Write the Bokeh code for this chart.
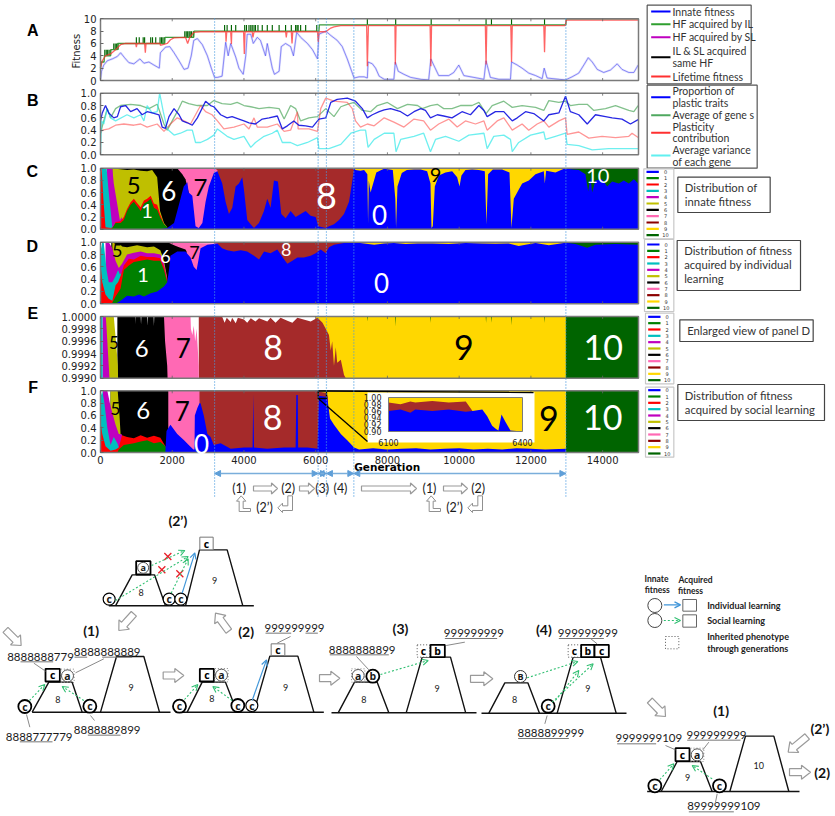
from bokeh.plotting import figure
from bokeh.embed import file_html
from bokeh.resources import INLINE
from bokeh.core.properties import value
from bokeh.models import (Range1d, LinearAxis, FixedTicker, NumeralTickFormatter,
                          Arrow, OpenHead, NormalHead)

# ---------------- DATA ----------------
stage_gens = [3180, 6068, 6300, 7063, 12975]
gen_ticks = [0, 2000, 4000, 6000, 8000, 10000, 12000, 14000]

# Panel A
innate_x = [0,30,90,190,330,470,560,670,790,930,1100,1210,1350,1490,1640,1670,1810,1930,2050,2190,2330,2440,2530,2600,2700,2840,2980,3090,3180,3260,3390,3490,3560,3630,3770,3860,3980,4050,4090,4190,4260,4370,4460,4600,4650,4790,4850,4980,5040,5160,5300,5380,5470,5580,5770,5910,6050,6090,6280,6420,6600,6740,6880,7070,7210,7350,7440,7460,7580,7670,7770,7910,8180,8220,8300,8460,8650,8930,9150,9210,9290,9430,9710,9850,9990,10130,10410,10690,10750,10870,11105,11430,11460,11620,11755,11940,12130,12315,12370,12450,12780,12965,13150,13335,13475,13600,13710,13850,14030,14220,14405,14540,14730,14870,14990]
innate_y = [0.2,1.5,2.5,3.2,3.5,3.9,4.5,3.7,2.9,2.7,3.5,2.8,3,2.5,2.0,4.5,5.4,5.5,4.5,3.2,1.8,2.0,4,6.5,6.8,5.8,4,2,.5,.5,.7,6.2,4,6,3.8,2,1,4,7.5,7.5,6,7,6.5,4,6,2,1,1.5,5.5,6,5.5,4,7.8,7,6,5,3.5,7.5,8,7.3,6.5,5.5,3.5,.4,.6,.6,.4,3,2.7,2,.7,.2,.2,3,1.5,1,.5,.2,.1,3.5,2.5,.8,.8,1.3,2.5,.8,.5,.2,3.2,.5,.2,.2,3,2.5,2,1.2,.8,.3,2,.4,.2,.1,.6,1.2,2.5,3.7,3,1.8,1.3,1.7,2.7,1.8,1.3,1.3,2.5]
life_x = [0,50,140,280,420,560,700,980,1000,1020,1230,1250,1270,1660,1670,1860,1950,2050,2370,2430,2490,2600,2790,3490,3500,3520,3630,3650,3660,3990,4010,4030,4230,4250,4280,5160,5180,5200,5320,5340,5360,6050,6070,6090,6280,6420,6510,6700,7420,7440,7470,8210,8220,8240,9190,9210,9230,10730,10750,10770,11440,11460,11480,12360,12380,12400,12955,12985,15000]
life_y = [2,3.2,4,4.3,5,5.8,6,6,5.4,6,6,4.5,6,6,5.7,6,6.6,6.9,7,6,7,7.8,7.9,7.9,6.3,7.9,7.9,5.9,7.9,7.9,4.3,7.9,7.9,7,7.9,7.9,7,7.9,7.9,6,7.9,7.9,6.3,7.9,7.9,8.5,8.7,8.9,8.9,2.3,8.9,8.9,2.6,8.9,8.9,2.3,8.9,8.9,2.6,8.9,8.9,3,8.9,8.9,4.6,8.9,8.9,9.8,9.8]
il_x = [0,20,100,110,280,290,470,480,1790,1800,2600,2610,6090,6100,12975,12985,15000]
il_y = [2,3,3,4,4,5,5,6,6,7,7,8,8,9,9,10,10]
hf_levels = [4, 5, 6, 7, 8, 9]
hf_gens = [
    [120,160,200,240,280],
    [370,410,450,490],
    [1000,1080,1190,1230,1400,1450,1540,1660,1700,1740,1780],
    [2350,2390,2430,2470,2500,2540,2590],
    [3460,3530,3650,3770,4020,4070,4140,4190,4230,4280,4320,4390,4510,4650,4790,4980,5160,5320,5440,5480,5510,5580,5720,6030],
    [7440,8230,9220,10750,10900,11460,12380],
]

# Panel B
plastic_x = [0,50,140,230,370,470,560,700,840,1020,1160,1300,1440,1630,1720,1810,1910,2050,2190,2280,2420,2560,2700,2930,3070,3160,3350,3530,3670,3860,4000,4140,4320,4510,4700,4930,5070,5210,5390,5530,5720,5910,6090,6280,6420,6600,6880,7110,7300,7440,7580,7770,7910,8090,8370,8560,8740,8930,9060,9200,9390,9570,9800,10080,10315,10550,10690,10780,11010,11245,11480,11620,11850,12080,12360,12500,12780,12965,13100,13335,13570,13800,14080,14265,14540,14775,14990]
plastic_y = [.55,.68,.8,.68,.6,.62,.78,.8,.7,.75,.65,.7,.68,.65,.45,.43,.62,.75,.65,.55,.52,.48,.6,.87,.8,.78,.65,.6,.62,.58,.55,.52,.5,.58,.6,.63,.42,.47,.55,.48,.47,.45,.58,.6,.85,.9,.92,.87,.75,.6,.65,.7,.73,.75,.7,.63,.7,.75,.72,.6,.65,.63,.6,.7,.65,.8,.72,.62,.7,.7,.55,.6,.7,.67,.55,.65,.68,.95,.7,.65,.5,.65,.62,.6,.58,.5,.57]
avg_x = [0,90,190,280,420,560,840,1120,1350,1580,1770,1860,2000,2140,2280,2460,2700,2980,3160,3390,3630,3810,4000,4190,4420,4700,4980,5120,5300,5440,5580,5810,6050,6280,6510,6700,6880,7070,7300,7530,7720,8000,8280,8560,8840,8970,9200,9390,9570,9800,10035,10360,10550,10750,10920,11245,11480,11755,12130,12360,12500,12780,12965,13100,13335,13570,13755,14080,14360,14730,14870,14990]
avg_y = [.35,.55,.75,.6,.75,.8,.82,.8,.75,.82,.5,.4,.55,.7,.87,.83,.8,.8,.88,.83,.82,.85,.8,.78,.75,.77,.75,.58,.8,.75,.55,.6,.62,.75,.62,.78,.82,.85,.72,.7,.8,.85,.75,.82,.8,.75,.8,.82,.75,.75,.8,.8,.85,.67,.8,.87,.77,.8,.77,.72,.88,.85,.87,.8,.82,.82,.72,.75,.8,.72,.7,.8]
contrib_x = [0,50,230,420,650,930,1120,1300,1580,1770,1950,2140,2330,2510,2790,2930,3110,3260,3440,3720,4000,4140,4280,4370,4650,4930,5120,5300,5490,5510,5810,6050,6140,6280,6510,6880,7020,7110,7250,7440,7630,7910,8180,8460,8740,9010,9200,9430,9710,9945,10175,10455,10690,10780,11060,11245,11480,11755,11940,12175,12360,12500,12780,12965,13010,13335,13615,13985,14360,14730,14820,14990]
contrib_y = [.35,.4,.42,.48,.5,.48,.5,.45,.5,.38,.5,.6,.55,.5,.8,.7,.65,.55,.42,.45,.5,.42,.6,.45,.45,.5,.38,.4,.7,.42,.42,.38,.75,.92,.87,.85,.75,.55,.45,.5,.47,.6,.53,.45,.58,.55,.4,.5,.58,.45,.55,.5,.55,.4,.55,.6,.4,.5,.4,.5,.55,.45,.55,.6,.33,.37,.27,.3,.28,.3,.35,.28]
var_x = [0,30,90,190,280,420,740,930,1120,1210,1300,1440,1580,1650,1750,1860,2050,2230,2420,2560,2650,2790,2980,3160,3260,3530,3720,4000,4190,4320,4560,4790,4930,5070,5300,5490,5770,6050,6090,6370,6700,6980,7250,7390,7460,7630,7910,8180,8240,8370,8740,9010,9200,9340,9620,9990,10270,10690,10780,10965,11245,11430,11480,11660,11990,12360,12405,12685,12965,13010,13335,13710,14170,14730,14990]
var_y = [.02,.55,.5,.75,.6,.55,.65,.6,.65,.55,.8,.68,.7,1.0,.7,.42,.32,.35,.4,.4,.2,.2,.25,.32,.42,.3,.25,.3,.12,.2,.3,.35,.4,.2,.2,.15,.2,.28,.1,.1,.17,.35,.4,.4,.12,.25,.35,.35,.05,.25,.3,.35,.05,.25,.3,.22,.32,.35,.1,.3,.32,.25,.05,.2,.32,.37,.25,.3,.35,.17,.15,.08,.1,.1,.1]

# Panel C: upper edge of each class
C10 = ([12975,15000],[1,1])
C9 = ([7060,12975],[1,1])
C8 = ([3170,7070],[1,1])
C7 = ([2140,3170,3260],[1,1,.97])
C6 = ([330,1540,2140,2280,2370,2460],[1,1,1,.9,.82,.6])
C5 = ([330,420,740,930,1120,1300,1440,1580,1660,1770,1860],[1,.99,.97,.98,.96,.95,.97,.85,.3,.1,.03])
C4 = ([170,330,370,470,540,600],[1,1,.75,.4,.15,.2])
C3 = ([30,170,230,330],[1,1,.6,.03])
C2 = ([0,30,80,140,280,350,420,560,650,740,840,930,1020,1120,1210,1300,1400,1490,1580,1660,1770,1860],[1,1,.5,.03,.02,.03,.12,.13,.2,.33,.44,.5,.43,.36,.47,.5,.55,.42,.4,.25,.08,.02])
C1 = ([280,330,420,560,650,740,840,930,1020,1120,1210,1300,1400,1490,1580,1660,1770,1860],[0,.02,.1,.1,.15,.3,.4,.45,.38,.3,.42,.45,.5,.35,.32,.2,.08,.03])
C0 = ([1660,1860,2050,2140,2230,2320,2420,2460,2560,2650,2740,2840,2930,3020,3160,3260,3395,3488,3581,3674,3767,3860,3953,3999,4092,4185,4278,4418,4557,4650,4743,4836,4948,5041,5162,5301,5441,5580,5720,5859,5999,6073,6278,6371,6510,6650,6789,6929,7022,7068,7110,7250,7350,7440,7460,7480,7530,7690,7830,7910,8150,8220,8240,8280,8400,8540,8740,8930,9107,9200,9228,9265,9321,9433,9618,9804,9944,10009,10064,10176,10362,10548,10715,10761,10808,10938,11198,11403,11458,11523,11663,11756,11942,12127,12360,12388,12425,12685,12871,12964,13150,13335,13521,13596,13661,13707,13800,13986,14126,14265,14451,14590,14730,14870,14990],
      [0,.02,.1,.3,.5,.7,.77,.6,.55,.05,.02,.1,.45,.7,.92,.95,.75,.45,.25,.35,.7,.75,.85,.65,.15,.08,.02,.1,.3,.5,.35,.8,.78,.25,.18,.3,.2,.25,.3,.22,.2,.05,.02,.05,.08,.15,.25,.45,.8,1,.97,.96,.97,.9,.1,.8,.6,.93,.97,.99,.97,.5,.02,.7,.92,.97,.98,.98,.95,.75,.02,.05,.7,.88,.93,.95,.85,.7,.88,.97,.98,.97,.95,.08,.9,.98,.98,.93,.02,.5,.65,.75,.8,.9,.95,.75,.96,.93,.98,1,.98,.97,.9,.62,.85,.6,.8,.82,.7,.78,.75,.8,.75,.82,.75])

# Panel D
D10 = ([12975,15000],[1,1])
D9 = ([7060,12975],[1,1])
D8 = ([3160,7070],[1,1])
D7 = ([1860,2050,3260],[1,.99,.98])
D6 = ([300,1860,1950,2050,2190,2370,2400],[1,1,.98,.95,.92,.88,.85])
D5 = ([330,420,560,600,740,1020,1300,1490,1670,1770,1860],[1,.97,.96,.93,.92,.95,.92,.93,.87,.7,.42])
D4 = ([140,230,330,420,510,600,740,930,1120,1300,1490,1670,1770,1860],[1,1,.9,.7,.58,.65,.8,.83,.85,.82,.82,.8,.65,.4])
D3 = ([0,50,90,170,230,330,420,490,540,600],[.85,1,1,.55,.35,.35,.45,.55,.48,.5])
D2 = ([0,50,140,230,330,420,490,560,650,790,930,1120,1300,1490,1670,1770,1860],[.65,.35,.15,.08,.05,.3,.35,.45,.62,.73,.72,.78,.76,.76,.74,.6,.38])
D1 = ([330,420,560,650,790,930,1120,1300,1490,1670,1770,1860,1910],[.02,.12,.25,.55,.62,.68,.7,.72,.7,.7,.55,.35,.3])
D0 = ([420,560,740,930,1070,1210,1400,1580,1770,1860,1910,1950,2140,2370,2510,2600,2680,2790,2980,3160,3260,3390,3530,3720,3910,4090,4280,4420,4560,4740,4930,5120,5210,5350,5490,5670,5860,6000,6140,6280,6370,6510,6790,7070,7350,7630,7910,8180,8510,8840,9250,9710,10180,10640,11010,11380,11660,11850,12130,12500,12965,13240,13570,13800,14360,14990],
      [0,.05,.13,.12,.15,.12,.17,.2,.28,.35,.55,.78,.85,.85,.75,.6,.55,.9,.96,.97,.98,.9,.87,.85,.87,.85,.78,.72,.85,.82,.88,.72,.65,.7,.75,.75,.78,.82,.88,.82,.92,.96,.985,1,.98,.96,.98,.985,.97,.98,.98,.97,.985,.98,.975,.98,.94,.96,.985,.95,.99,.97,.91,.96,.97,.96])

# Panel E
E10 = ([7000,15000],[1,1])
E9 = ([6000,7430,7440,7450,8215,8225,8235,9190,9200,9210,10740,10750,10760,10890,10900,10910,11450,11460,11470,12370,12380,12390,12975],[1,1,.99992,1,1,.99984,1,1,.9999,1,1,.9999,1,1,.9999,1,1,.99986,1,1,.9999,1,1])
E8 = ([2740,3390,3460,3520,3630,3670,3770,3830,4000,4090,4190,4320,4420,4650,4740,4880,5020,5210,5350,5490,5860,6050,6190,6280,6370,6420,6460,6510,6560,6600,6700,6790,6840],
      [1,1,.9999,.99998,.99991,.99998,.99989,.99998,.99995,.9999,.99997,.99992,.99997,.99992,.99998,.9999,.99998,.99993,.9999,.99998,.99992,.99998,.9999,.9998,.9997,.99945,.9996,.9992,.9995,.99925,.9993,.99905,.999])
E7 = ([1740,2510,2520,2560,2600,2640,2680,2740],[1,1,.9998,.9997,.99985,.9996,.9998,.9992])
E6 = ([470,980,985,990,1120,1130,1140,1300,1310,1320,1480,1490,1500,1770,1800,1860,1870],[1,1,.99988,1,1,.99987,1,1,.99985,1,1,.99985,1,1,.9996,.9992,.999])
E5 = ([150,370,430,484,490],[1,1,.9996,.9992,.999])
E4 = ([56,150,200,250],[1,1,.9995,.999])
E3 = ([0,56,60],[1,1,.999])

# Panel F
F10 = ([12975,15000],[1,1])
F9 = ([6050,12975],[1,1])
F8 = ([2740,6060,6150,6280,6330,6340],[1,1,.98,.97,.92,.88])
F7 = ([1860,2760],[1,1])
F6 = ([280,1890],[1,1])
F5 = ([280,480,530,560,600],[1,1,.6,.3,.28])
F4 = ([65,190,280,420,510,600],[1,1,.75,.45,.3,.29])
F3 = ([0,50,110,190,280,370,470,510],[.9,1,.8,.4,.12,.25,.15,.08])
F2 = ([0,50,140,280,420,510,600,740,930,1120,1300,1490,1670,1810,1860],[.5,.3,.1,.03,.05,.08,.28,.25,.23,.28,.24,.27,.24,.1,.03])
F1 = ([470,510,650,930,1120,1300,1490,1670,1810,1860],[0,.05,.12,.15,.18,.2,.15,.17,.1,.02])
F0 = ([1810,1840,1950,2140,2330,2460,2590,2620,2630,2700,2760,2790,2880,2980,3070,3160,3350,3630,4000,4240,4260,4280,4650,5120,5440,5460,5500,5510,5770,6050,6090,6320,6400,6510,6700,6880,7070,7210,7600,8000,8400,8800,9200,9600,10000,10400,10800,11200,11600,12000,12400,12975],
      [.03,.35,.45,.3,.2,.12,.05,.05,.6,.72,.8,.8,.6,.3,.25,.12,.15,.06,.08,.08,.95,.08,.06,.08,.08,.93,.93,.08,.08,.06,.92,.9,.55,.45,.3,.2,.08,.05,.07,.05,.06,.07,.05,.06,.07,.05,.06,.05,.07,.06,.05,.06])

# Inset of panel F (6100 to 6400)
INS_brown = ([6100,6127,6149,6160,6198,6235,6273,6288],[.985,.98,.988,.985,.99,.985,.988,.96])
INS_blue = ([6100,6127,6149,6160,6198,6235,6273,6288,6310,6321,6332,6340,6346,6353,6362,6373,6400],[.96,.965,.955,.965,.96,.965,.958,.96,.965,.945,.917,.908,.903,.95,.928,.903,.9])

stack_colors = {"0":"#0000FF","1":"#008000","2":"#FF0000","3":"#00BFBF","4":"#BF00BF","5":"#BFBF00",
                "6":"#000000","7":"#FF69B4","8":"#A52A2A","9":"#FFD700","10":"#006400"}
legend_colors = ["#0000FF","#008000","#FF0000","#00BFBF","#BF00BF","#BFBF00","#000000","#FF69B4","#8B0000","#FFD700","#006400"]
classes = ["0","1","2","3","4","5","6","7","8","9","10"]

# ---------------- LAYOUT ----------------
GX0, GX1 = 100.0, 638.0
PANELS = {"A":(18.3,80,0,10), "B":(92.7,154.3,0,1), "C":(167.7,228.7,0,1),
          "D":(241.7,303.3,0,1), "E":(316,377.7,.999,1), "F":(390.3,452,0,1)}
PT, PB, PL, PR = 0, 816, 0, 835

p = figure(width=835, height=816, x_range=Range1d(PL, PR), y_range=Range1d(PB, PT),
           x_axis_location=None, y_axis_location=None, toolbar_location=None,
           output_backend="svg", min_border=0, outline_line_color=None)
p.grid.visible = False

def span(a0, a1, v0, v1, lo, hi):
    f = lambda a: v0 + (a - a0) / (a1 - a0) * (v1 - v0)
    return Range1d(start=f(lo), end=f(hi))

p.extra_x_ranges["gen"] = span(GX0, GX1, 0, 15000, PL, PR)
for k, (t, b, lo, hi) in PANELS.items():
    p.extra_y_ranges[k] = span(b, t, lo, hi, PB, PT)
p.extra_x_ranges["insX"] = span(388, 522, 6100, 6400, PL, PR)
p.extra_y_ranges["insY"] = span(431, 397, .90, 1.0, PB, PT)

Z1 = lambda x, y: (x/3, y/3)
Z2 = lambda x, y: (415 + x/3, y/3)
Z3 = lambda x, y: (x/3, 235 + y/3)
Z4 = lambda x, y: (415 + x/3, 235 + y/3)
Z5 = lambda x, y: (x/3, 500 + y/3)
Z6 = lambda x, y: (415 + x/3, 500 + y/3)

def txt(pt, s, size=11.5, color="#1a1a1a", font="Lato", bold=False, align="center", angle=0):
    p.text(x=[pt[0]], y=[pt[1]], text=[s], text_font=value(font), text_font_size=f"{size}px",
           text_color=color, text_align=align, text_baseline="middle", angle=angle,
           text_font_style="bold" if bold else "normal")

def line(pts, color="#000000", w=1.5, dash="solid", alpha=1.0):
    p.line([q[0] for q in pts], [q[1] for q in pts], line_color=color, line_width=w, line_dash=dash, line_alpha=alpha)

def box(a, b, color="#000000", w=1.5, dash="solid", fill="#ffffff"):
    p.quad(left=[a[0]], right=[b[0]], top=[a[1]], bottom=[b[1]], fill_color=fill, line_color=color, line_width=w, line_dash=dash)

def circ(pt, size=13, w=1.5, color="#000000", letter="c", lsize=10.5):
    p.scatter(x=[pt[0]], y=[pt[1]], size=size, marker="circle", fill_color="#ffffff", line_color=color, line_width=w)
    if letter:
        txt(pt, letter, lsize, font="Open Sans", bold=True)

def arrow(a, b, color="#2fbf71", dash="2 2", w=1.1):
    p.add_layout(Arrow(end=OpenHead(size=6, line_color=color, line_width=w), x_start=a[0], y_start=a[1],
                       x_end=b[0], y_end=b[1], line_color=color, line_width=w, line_dash=dash))

def block(a, b, half=3.5, head=7.5, hl=9):
    dx, dy = b[0]-a[0], b[1]-a[1]
    n = (dx*dx+dy*dy)**.5
    ux, uy = dx/n, dy/n
    nx, ny = -uy, ux
    nk = (b[0]-ux*hl, b[1]-uy*hl)
    pts = [(a[0]+nx*half, a[1]+ny*half), (nk[0]+nx*half, nk[1]+ny*half), (nk[0]+nx*head, nk[1]+ny*head), b,
           (nk[0]-nx*head, nk[1]-ny*head), (nk[0]-nx*half, nk[1]-ny*half), (a[0]-nx*half, a[1]-ny*half)]
    p.patch([q[0] for q in pts], [q[1] for q in pts], fill_color="#ffffff", line_color="#9a9a9a", line_width=1.2)

def cross(pt, r=3.5):
    line([(pt[0]-r, pt[1]-r), (pt[0]+r, pt[1]+r)], "#e8202a", 1.3)
    line([(pt[0]-r, pt[1]+r), (pt[0]+r, pt[1]-r)], "#e8202a", 1.3)

def stack(panel, layers, base=0.0):
    for key, (xs, ys) in layers:
        p.varea(x=xs, y1=[base]*len(xs), y2=ys, fill_color=stack_colors[key],
                x_range_name="gen", y_range_name=panel)

# stacked panels, painted from the top class down
stack("C", [("10",C10),("9",C9),("8",C8),("7",C7),("6",C6),("5",C5),("4",C4),("3",C3),("2",C2),("1",C1),("0",C0)])
stack("D", [("10",D10),("9",D9),("8",D8),("7",D7),("6",D6),("5",D5),("4",D4),("3",D3),("2",D2),("1",D1),("0",D0)])
stack("E", [("10",E10),("9",E9),("8",E8),("7",E7),("6",E6),("5",E5),("4",E4),("3",E3)], base=.999)
stack("F", [("10",F10),("9",F9),("8",F8),("7",F7),("6",F6),("5",F5),("4",F4),("3",F3),("2",F2),("1",F1),("0",F0)])

# panel A
for lw, al in [(2.2, .14), (1.0, .45)]:
    p.line(innate_x, innate_y, line_color="#2222ee", line_width=lw, line_alpha=al, x_range_name="gen", y_range_name="A")
for lev, gs in zip(hf_levels, hf_gens):
    p.vbar(x=gs, width=32, bottom=lev, top=lev+1, fill_color="#006400", line_color=None, x_range_name="gen", y_range_name="A")
p.line(il_x, il_y, line_color="#3a9a3a", line_width=1.3, x_range_name="gen", y_range_name="A")
p.line(life_x, life_y, line_color="#ff3030", line_width=1.3, line_alpha=.75, x_range_name="gen", y_range_name="A")

# panel B
for xs, ys, c, a in [(avg_x, avg_y, "#3f9f4f", .65), (contrib_x, contrib_y, "#ff4040", .55),
                     (var_x, var_y, "#30e8e8", .7), (plastic_x, plastic_y, "#1010e0", .9)]:
    p.line(xs, ys, line_color=c, line_width=1.3, line_alpha=a, x_range_name="gen", y_range_name="B")

# frames, ticks
for k, (t, b, lo, hi) in PANELS.items():
    p.quad(left=[0], right=[15000], bottom=[lo], top=[hi], fill_color=None, line_color="#7a7a7a", line_width=1.5,
           x_range_name="gen", y_range_name=k)
    p.segment(x0=gen_ticks, x1=gen_ticks, y0=[b]*8, y1=[b-2.5]*8, line_color="#666666", line_width=.8, x_range_name="gen")
    p.segment(x0=gen_ticks, x1=gen_ticks, y0=[t]*8, y1=[t+2.5]*8, line_color="#666666", line_width=.8, x_range_name="gen")

y_ticks = {"A":[0,2,4,6,8,10], "B":[0,.2,.4,.6,.8,1], "C":[0,.2,.4,.6,.8,1], "D":[0,.2,.4,.6,.8,1],
           "E":[.999,.9992,.9994,.9996,.9998,1.0], "F":[0,.2,.4,.6,.8,1]}
y_fmt = {"A":"0","B":"0.0","C":"0.0","D":"0.0","E":"0.0000","F":"0.0"}
for k, (t, b, lo, hi) in PANELS.items():
    ax = LinearAxis(y_range_name=k, x_range_name="gen", fixed_location=0, bounds=(lo, hi),
                    ticker=FixedTicker(ticks=y_ticks[k]), formatter=NumeralTickFormatter(format=y_fmt[k]),
                    axis_line_color=None, major_tick_in=3, major_tick_out=0, major_tick_line_color="#666666",
                    minor_tick_line_color=None, major_label_text_font="DejaVu Sans",
                    major_label_text_font_size="10px", major_label_text_color="#222222", major_label_standoff=4)
    p.add_layout(ax, "left")
xax = LinearAxis(x_range_name="gen", y_range_name="F", fixed_location=0, bounds=(0, 15000),
                 ticker=FixedTicker(ticks=gen_ticks), formatter=NumeralTickFormatter(format="0"),
                 axis_line_color=None, major_tick_in=0, major_tick_out=0, minor_tick_line_color=None,
                 major_label_text_font="DejaVu Sans", major_label_text_font_size="10px",
                 major_label_text_color="#222222", major_label_standoff=3)
p.add_layout(xax, "below")
txt(Z3(1160, 695), "Generation", 10.5, "#000000", "DejaVu Sans", True)
txt(Z1(228, 152), "Fitness", 10, "#222222", "DejaVu Sans", angle=1.5708)

# inset
box((367, 392), (534, 442), color=None, w=0)
p.varea(x=[6100, 6400], y1=[.9, .9], y2=[1, 1], fill_color=stack_colors["9"], x_range_name="insX", y_range_name="insY")
p.varea(x=INS_brown[0], y1=[.9]*len(INS_brown[0]), y2=INS_brown[1], fill_color=stack_colors["8"], x_range_name="insX", y_range_name="insY")
p.varea(x=INS_blue[0], y1=[.9]*len(INS_blue[0]), y2=INS_blue[1], fill_color=stack_colors["0"], x_range_name="insX", y_range_name="insY")
p.quad(left=[6100], right=[6400], bottom=[.9], top=[1.0], fill_color=None, line_color="#7a7a7a", line_width=1, x_range_name="insX", y_range_name="insY")
p.add_layout(LinearAxis(y_range_name="insY", x_range_name="insX", fixed_location=6100, bounds=(.9, 1),
                        ticker=FixedTicker(ticks=[.9,.92,.94,.96,.98,1.0]), formatter=NumeralTickFormatter(format="0.00"),
                        axis_line_color=None, major_tick_line_color=None, minor_tick_line_color=None,
                        major_label_text_font="DejaVu Sans", major_label_text_font_size="8px", major_label_text_color="#222222",
                        major_label_standoff=1), "left")
p.add_layout(LinearAxis(y_range_name="insY", x_range_name="insX", fixed_location=.9, bounds=(6100, 6400),
                        ticker=FixedTicker(ticks=[6100, 6400]), formatter=NumeralTickFormatter(format="0"),
                        axis_line_color=None, major_tick_line_color=None, minor_tick_line_color=None,
                        major_label_text_font="DejaVu Sans", major_label_text_font_size="8px", major_label_text_color="#222222",
                        major_label_standoff=1), "below")
box((317.7, 390.5), (326, 398), color="#000000", w=1.3, fill=None)
line([(326, 390.5), (533, 392)], "#000000", 1.3)
line([(317.7, 398), (367, 441)], "#000000", 1.3)

# stage lines and arrows
p.segment(x0=stage_gens, x1=stage_gens, y0=[18]*5, y1=[496]*5, line_color="#4a9be0", line_width=1.2, line_dash="1 2", x_range_name="gen")
stage_pairs = list(zip(stage_gens[:-1], stage_gens[1:]))
for a, b in stage_pairs:
    p.add_layout(Arrow(x_range_name="gen", x_start=a, x_end=b, y_start=473, y_end=473, line_color="#7aaedb", line_width=1.3,
                       start=NormalHead(size=6, fill_color="#5f9fd8", line_color="#5f9fd8"),
                       end=NormalHead(size=6, fill_color="#5f9fd8", line_color="#5f9fd8")))
for q, s in [(Z3(716,760),"(1)"),(Z3(863,760),"(2)"),(Z3(965,760),"(3)"),(Z3(1020,760),"(4)"),(Z4(42,760),"(1)"),(Z4(188,760),"(2)")]:
    txt(q, s, 12.5, font="Lato")
for a, b in [((253,488),(277,488)),((299,488),(314,488)),((361,488),(416,488)),((443,488),(467,488))]:
    block(a, b, 2.5, 5.5, 6)
for off in (0, 190):
    for poly in ([(722,-14),(708,2),(716,2),(716,33),(750,33),(750,24),(728,24),(728,2),(736,2)],
                 [(862,-14),(876,-14),(876,30),(846,30),(846,36),(832,22),(846,8),(846,16),(862,16)]):
        xs = [q[0]/3 + off for q in poly]
        ys = [500 + q[1]/3 for q in poly]
        p.patch(xs, ys, fill_color="#ffffff", line_color="#909090", line_width=1)
    txt((264+off, 507), "(2’)", 12.5)

# numbers inside the panels
W, K = "#ffffff", "#000000"
for fn, x, y, s, size, c in [
    (Z1,400,555,"5",24,K),(Z1,505,570,"6",26,W),(Z1,600,560,"7",24,K),(Z1,440,632,"1",20,W),(Z1,978,585,"8",36,W),(Z1,1137,643,"0",26,W),(Z2,60,522,"9",20,K),(Z2,547,525,"10",20,W),
    (Z3,350,45,"5",18,K),(Z3,495,62,"6",18,W),(Z3,428,118,"1",20,W),(Z3,582,50,"7",18,K),(Z3,857,42,"8",18,W),(Z3,1143,142,"0",26,W),
    (Z3,340,320,"5",17,K),(Z3,424,340,"6",24,W),(Z3,548,338,"7",26,K),(Z3,818,335,"8",34,W),(Z4,145,335,"9",34,K),(Z4,563,337,"10",34,W),
    (Z3,345,520,"5",17,K),(Z3,428,525,"6",24,W),(Z3,545,527,"7",26,K),(Z3,603,625,"0",26,W),(Z3,816,547,"8",34,W),(Z4,400,550,"9",34,K),(Z4,562,547,"10",34,W)]:
    txt(fn(x, y), s, size, c)

for fn, x, y, s in [(Z1,97,90,"A"),(Z1,97,300,"B"),(Z1,95,512,"C"),(Z3,95,32,"D"),(Z3,97,235,"E"),(Z3,98,455,"F")]:
    txt(fn(x, y), s, 16, "#000000", "Liberation Sans", True)

# line legends
def legend_box(a, b):
    box(a, b, color="#555555", w=1.2)
legend_box(Z2(695, 14), Z2(1007, 250))
for zy, c in [(33,"#0000ff"),(71,"#2f9f2f"),(110,"#bf00bf"),(170,"#000000"),(228,"#ff3030")]:
    line([Z2(707,zy), Z2(765,zy)], c, 2)
for zy, s in [(33,"Innate fitness"),(71,"HF acquired by IL"),(110,"HF acquired by SL"),(150,"IL & SL acquired"),(187,"same HF"),(228,"Lifetime fitness")]:
    txt(Z2(771, zy), s, 10.5, "#333333", align="left")
legend_box(Z2(695, 254), Z2(1025, 503))
for zy, c in [(290,"#0000ff"),(344,"#4fa85f"),(397,"#ff3030"),(465,"#60f0f0")]:
    line([Z2(707,zy), Z2(765,zy)], c, 2)
for zy, s in [(272,"Proportion of"),(307,"plastic traits"),(343,"Average of gene s"),(378,"Plasticity"),(413,"contribution"),(448,"Average variance"),(483,"of each gene")]:
    txt(Z2(771, zy), s, 10.5, "#333333", align="left")

# class legends
def class_legend(fn, xb0, xb1, yb0, yb1, y0):
    box(fn(xb0, yb0), fn(xb1, yb1), color="#c8c8c8", w=1.2)
    for i, c in enumerate(classes):
        zy = y0 + i*19
        line([fn(xb0+8, zy), fn(xb0+45, zy)], legend_colors[i], 2.2)
        txt(fn(xb0+65, zy), c, 5, "#333333", "DejaVu Sans")
class_legend(Z2, 685, 775, 505, 715, 514)
class_legend(Z4, 687, 775, 12, 228, 27)
class_legend(Z4, 690, 775, 233, 445, 244)
class_legend(Z4, 690, 775, 455, 665, 464)

# note boxes
for fn, a, b, lines_, tx in [
    (Z2,(787,530),(1064,636),[(562,"Distribution of"),(603,"innate fitness")],808),
    (Z4,(785,15),(1155,165),[(46,"Distribution of fitness"),(88,"acquired by individual"),(130,"learning")],806),
    (Z4,(793,253),(1193,318),[(285,"Enlarged view of panel D")],815),
    (Z4,(787,447),(1227,555),[(480,"Distribution of fitness"),(522,"acquired by social learning")],808)]:
    box(fn(*a), fn(*b), color="#444444", w=1.2)
    for zy, s in lines_:
        txt(fn(tx, zy), s, 11.3, "#333333", align="left")

# ---------------- schematic ----------------
GREY = "#8a8a8a"
BLUE = "#3f95d8"

def under(fn, a, b, zy):
    line([fn(a, zy), fn(b, zy)], "#777777", 1)

def sq(fn, x0, y0, x1, y1, s=None, w=1.8, color="#000000", dash="solid"):
    box(fn(x0, y0), fn(x1, y1), color=color, w=w, dash=dash)
    if s:
        txt(fn((x0+x1)/2, (y0+y1)/2), s, 10.5, "#000000", "Open Sans", True)

def dotted_a(fn, cx, cy, s="a"):
    box(fn(cx-20, cy-20), fn(cx+20, cy+20), color="#888888", w=1, dash="1 2", fill=None)
    circ(fn(cx, cy), 12, 1, "#555555", s)

# (2')
txt(Z5(532,60), "(2’)", 14, "#111111", bold=True)
line([Z5(325,316),Z5(760,316)], "#111111", 1.5)
line([Z5(345,316),Z5(395,223),Z5(462,223),Z5(495,316)], "#111111", 1.4)
line([Z5(555,316),Z5(597,148),Z5(680,148),Z5(727,316)], "#111111", 1.4)
txt(Z5(422,277),"8",9); txt(Z5(642,240),"9",9)
sq(Z5,407,182,450,222)
circ(Z5(428,202),11,1,"#555555","a",9)
sq(Z5,598,110,638,148,"c",1,"#777777")
for cx in (326,506,541):
    circ(Z5(cx,296),12,1.2)
arrow(Z5(453,195),Z5(553,150)); arrow(Z5(345,300),Z5(563,168)); arrow(Z5(512,278),Z5(563,175))
arrow(Z5(545,278),Z5(583,157),BLUE,"solid",1.2)
cross(Z5(502,168)); cross(Z5(484,208)); cross(Z5(538,220))
block(Z5(400,340),Z5(355,390),3.5,7,8)
block(Z5(685,392),Z5(645,338),3.5,7,8)

# (1)
txt(Z5(272,390),"(1)",14,"#111111",bold=True)
block(Z5(15,388),Z5(62,435),3.5,7,8)
line([Z5(95,635),Z5(510,635)],"#111111",1.5)
line([Z5(95,635),Z5(145,545),Z5(215,545),Z5(245,635)],"#111111",1.4)
line([Z5(300,635),Z5(348,468),Z5(430,468),Z5(477,635)],"#111111",1.4)
txt(Z5(172,596),"8",9); txt(Z5(392,562),"9",9)
sq(Z5,135,505,178,543,"c"); dotted_a(Z5,201,526)
circ(Z5(73,618),13,1.8); circ(Z5(268,617),13,1.8)
arrow(Z5(87,600),Z5(133,552)); arrow(Z5(250,600),Z5(185,558))
for q, s in [((120,468),"8888888779"),((320,453),"8888888889"),((116,708),"8888777779"),((320,688),"8888889899")]:
    txt(Z5(*q), s)
under(Z5,60,158,484); under(Z5,222,260,470); under(Z5,305,395,470); under(Z5,58,156,724); under(Z5,262,360,704)
line([Z5(100,488),Z5(135,512)],GREY,1); line([Z5(225,517),Z5(310,475)],GREY,1); line([Z5(78,642),Z5(88,680)],GREY,1); line([Z5(270,645),Z5(282,660)],GREY,1)
block(Z5(488,525),Z5(550,525),3.5,7,9)

# (2)
txt(Z5(737,392),"(2)",14,"#111111",bold=True)
line([Z5(525,635),Z5(970,635)],"#111111",1.5)
line([Z5(560,635),Z5(605,545),Z5(675,545),Z5(710,635)],"#111111",1.4)
line([Z5(760,635),Z5(808,467),Z5(892,467),Z5(940,635)],"#111111",1.4)
txt(Z5(634,595),"8",9); txt(Z5(855,560),"9",9)
sq(Z5,598,505,640,543,"c"); dotted_a(Z5,663,524)
circ(Z5(537,617),13,1.8); circ(Z5(712,615),13,1.8); circ(Z5(754,615),12,1.2)
arrow(Z5(755,600),Z5(798,478),BLUE,"solid",1.2)
arrow(Z5(552,597),Z5(592,552)); arrow(Z5(695,600),Z5(637,558))
sq(Z5,812,430,853,465,"c",1,"#777777")
txt(Z5(882,381),"999999999")
under(Z5,795,872,398); under(Z5,915,952,398)
line([Z5(830,428),Z5(870,408)],GREY,1)
block(Z5(957,533),Z5(1018,533),3.5,7,9)

# (3)
txt(Z5(1200,385),"(3)",14,"#111111",bold=True)
line([Z5(993,637),Z6(183,637)],"#111111",1.5)
line([Z5(1013,637),Z5(1062,545),Z5(1130,545),Z5(1165,637)],"#111111",1.4)
line([Z5(1217,637),Z6(20,470),Z6(105,470),Z6(150,635)],"#111111",1.4)
txt(Z5(1090,597),"8",9); txt(Z6(65,563),"9",9)
sq(Z6,5,433,42,470,"c",1,"#555555","1 2"); sq(Z6,45,433,88,470,"b")
dotted_a(Z5,1073,525); circ(Z5(1117,527),13,1.8,letter="b")
txt(Z5(1085,447),"8888888899"); txt(Z6(175,398),"999999999")
under(Z5,988,1165,463); under(Z6,88,245,414)
line([Z5(1068,468),Z5(1105,508)],GREY,1); line([Z6(92,435),Z6(148,425)],GREY,1)
arrow(Z5(1140,522),Z6(38,480))
block(Z6(165,535),Z6(232,535),3.5,7,9)

# (4)
txt(Z6(385,388),"(4)",14,"#111111",bold=True)
line([Z6(198,638),Z6(633,638)],"#111111",1.5)
line([Z6(220,638),Z6(268,547),Z6(337,547),Z6(372,638)],"#111111",1.4)
line([Z6(425,638),Z6(473,470),Z6(555,470),Z6(602,638)],"#111111",1.4)
txt(Z6(297,598),"8",9); txt(Z6(517,565),"9",9)
sq(Z6,458,433,495,470,"c",1,"#555555","1 2"); sq(Z6,497,433,537,470,"b"); sq(Z6,537,433,580,470,"c")
circ(Z6(315,528),12,1,"#333333","B",9); circ(Z6(398,617),13,1.8)
arrow(Z6(335,532),Z6(487,483)); arrow(Z6(410,605),Z6(533,490)); arrow(Z6(420,600),Z6(490,510))
txt(Z6(517,397),"999999999"); txt(Z6(406,698),"8888899999")
under(Z6,430,565,414); under(Z6,308,460,714)
line([Z6(395,645),Z6(388,670)],GREY,1); line([Z6(525,414),Z6(545,430)],GREY,1)
block(Z6(703,600),Z6(750,648),3.5,7,8)

# (1) right
txt(Z6(917,630),"(1)",14,"#111111",bold=True)
line([Z6(695,873),Z6(1152,873)],"#111111",1.5)
line([Z6(737,873),Z6(785,783),Z6(855,783),Z6(890,873)],"#111111",1.4)
line([Z6(943,873),Z6(990,707),Z6(1075,707),Z6(1120,873)],"#111111",1.4)
txt(Z6(816,832),"9",9); txt(Z6(1030,795),"10",9)
sq(Z6,780,743,822,782,"c"); dotted_a(Z6,845,763)
circ(Z6(718,856),13,1.8); circ(Z6(912,856),13,1.8)
arrow(Z6(733,837),Z6(775,790)); arrow(Z6(890,835),Z6(830,795))
txt(Z6(700,713),"9999999109"); txt(Z6(903,703),"999999999"); txt(Z6(925,917),"89999999109")
under(Z6,605,722,730); under(Z6,815,975,719); under(Z6,820,955,934)
line([Z6(750,735),Z6(780,748)],GREY,1); line([Z6(880,725),Z6(862,748)],GREY,1); line([Z6(905,880),Z6(900,905)],GREY,1)
txt(Z6(1213,683),"(2’)",14,"#111111",bold=True); txt(Z6(1220,815),"(2)",14,"#111111",bold=True)
block(Z6(1175,708),Z6(1118,755),3.5,7,8)
block(Z6(1122,815),Z6(1185,815),3.5,7,9)

# key
for q, s in [((723,235),"Innate"),((725,268),"fitness"),((840,237),"Acquired"),((825,270),"fitness")]:
    txt(Z6(*q), s, 8.5, "#222222", bold=True)
circ(Z6(718,315),14,1,"#444444",None); circ(Z6(718,360),14,1,"#444444",None)
sq(Z6,802,297,843,332,None,1,"#666666"); sq(Z6,802,343,843,380,None,1,"#666666")
arrow(Z6(745,313),Z6(795,313),BLUE,"solid",1.3); arrow(Z6(745,360),Z6(795,360))
sq(Z6,750,408,790,445,None,1,"#555555","1 2")
for zy, s in [(315,"Individual learning"),(360,"Social  learning"),(408,"Inherited phenotype"),(445,"through generations")]:
    txt(Z6(875,zy), s, 9, "#222222", align="left", bold=True)

open("out.html", "w").write(file_html(p, INLINE))
